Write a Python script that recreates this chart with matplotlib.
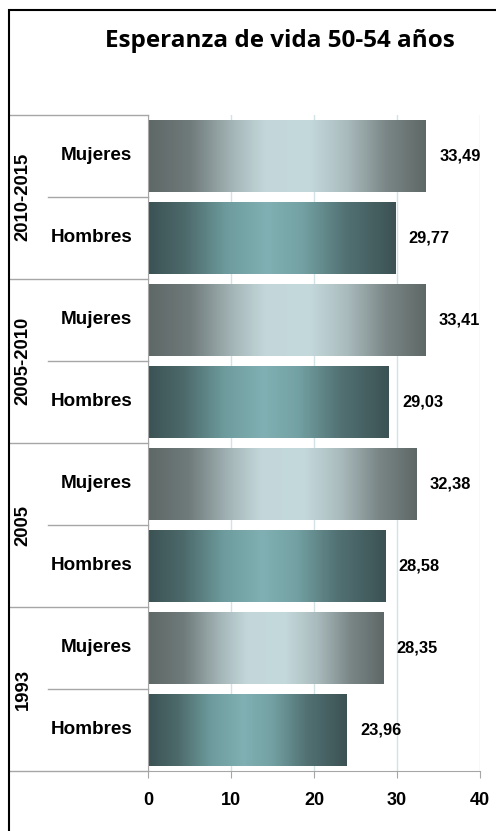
import numpy as np
import matplotlib.pyplot as plt
from matplotlib.colors import LinearSegmentedColormap
from matplotlib.patches import Rectangle
from matplotlib import font_manager as fm
import matplotlib.transforms as mtrans

# datos (de arriba hacia abajo)
periodos = ['2010-2015', '2005-2010', '2005', '1993']
sexos = ['Mujeres', 'Hombres']
valores = [33.49, 29.77, 33.41, 29.03, 32.38, 28.58, 28.35, 23.96]
ticks_x = [0, 10, 20, 30, 40]

cmap_muj = LinearSegmentedColormap.from_list('muj', [
    (0.0, '#5e6867'), (0.15, '#6f7a7a'), (0.3, '#a3b4b6'), (0.42, '#c3d7da'),
    (0.58, '#c4d9dc'), (0.72, '#a9babc'), (0.86, '#7a8686'), (1.0, '#5e6867')])
cmap_hom = LinearSegmentedColormap.from_list('hom', [
    (0.0, '#3c5254'), (0.15, '#4d6a6b'), (0.32, '#6e9c9e'), (0.48, '#80b0b3'),
    (0.62, '#74a2a4'), (0.8, '#527173'), (1.0, '#3c5254')])

# Liberation Sans Bold (no la Narrow)
arial_b = None
for f in fm.fontManager.ttflist:
    if f.name == 'Liberation Sans' and f.weight in (700, 'bold') and f.style == 'normal':
        arial_b = f.fname
        break
fp = lambda s: fm.FontProperties(fname=arial_b, size=s) if arial_b else \
    fm.FontProperties(family='DejaVu Sans', weight='bold', size=s)

fig = plt.figure(figsize=(4.96, 8.31), dpi=100)
W, H = 496, 831
ax = fig.add_axes([148 / W, (H - 771) / H, 332 / W, 656 / H])

grad = np.linspace(0, 1, 256).reshape(1, -1)
h = 0.866
for i, v in enumerate(valores):
    cm = cmap_muj if i % 2 == 0 else cmap_hom
    ax.imshow(grad, cmap=cm, aspect='auto', interpolation='bilinear',
              extent=[0, v, i + h / 2, i - h / 2], zorder=2)
    ax.text(v + 1.6, i, f'{v:.2f}'.replace('.', ','), ha='left', va='center',
            fontproperties=fp(11.8))

ax.set_xlim(0, 40)
ax.set_ylim(7.5, -0.5)
ax.set_xticks(ticks_x)
ax.set_xticklabels([str(t) for t in ticks_x], fontproperties=fp(13))
ax.set_yticks([])
ax.grid(axis='x', color='#d3e2e5', lw=1, zorder=0)
for s in ['top', 'right']:
    ax.spines[s].set_visible(False)
for s in ['left', 'bottom']:
    ax.spines[s].set_color('#a6a6a6')
ax.tick_params(axis='x', length=5, color='#a6a6a6', pad=10)

# etiquetas de categorías
tr = mtrans.blended_transform_factory(ax.transAxes, ax.transData)
x_frame = (9 - 148) / 332
x_inner = (48 - 148) / 332
for g, per in enumerate(periodos):
    top = 2 * g - 0.5
    ax.plot([x_frame, 0], [top, top], transform=tr, color='#a6a6a6', lw=1, clip_on=False)
    ax.plot([x_inner, 0], [top + 1, top + 1], transform=tr, color='#a6a6a6', lw=1, clip_on=False)
    ax.text((23 - 148) / 332, 2 * g + 0.5, per, transform=tr, rotation=90,
            ha='center', va='center', fontproperties=fp(13.3))
    for k, sx in enumerate(sexos):
        ax.text((132 - 148) / 332, 2 * g + k, sx, transform=tr, ha='right', va='center',
                fontproperties=fp(13.6))
ax.plot([x_frame, 0], [7.5, 7.5], transform=tr, color='#a6a6a6', lw=1, clip_on=False)

fig.text(280 / W, 1 - 47 / H, 'Esperanza de vida 50-54 años', ha='center', va='baseline',
         fontsize=17.5, fontweight='bold', family='Open Sans')

fig.patches.append(Rectangle((9 / W, -0.1), 1.2, 1.1 - 10 / H, transform=fig.transFigure,
                             fill=False, edgecolor='black', lw=1.5))

fig.savefig('out.png', dpi=100)
